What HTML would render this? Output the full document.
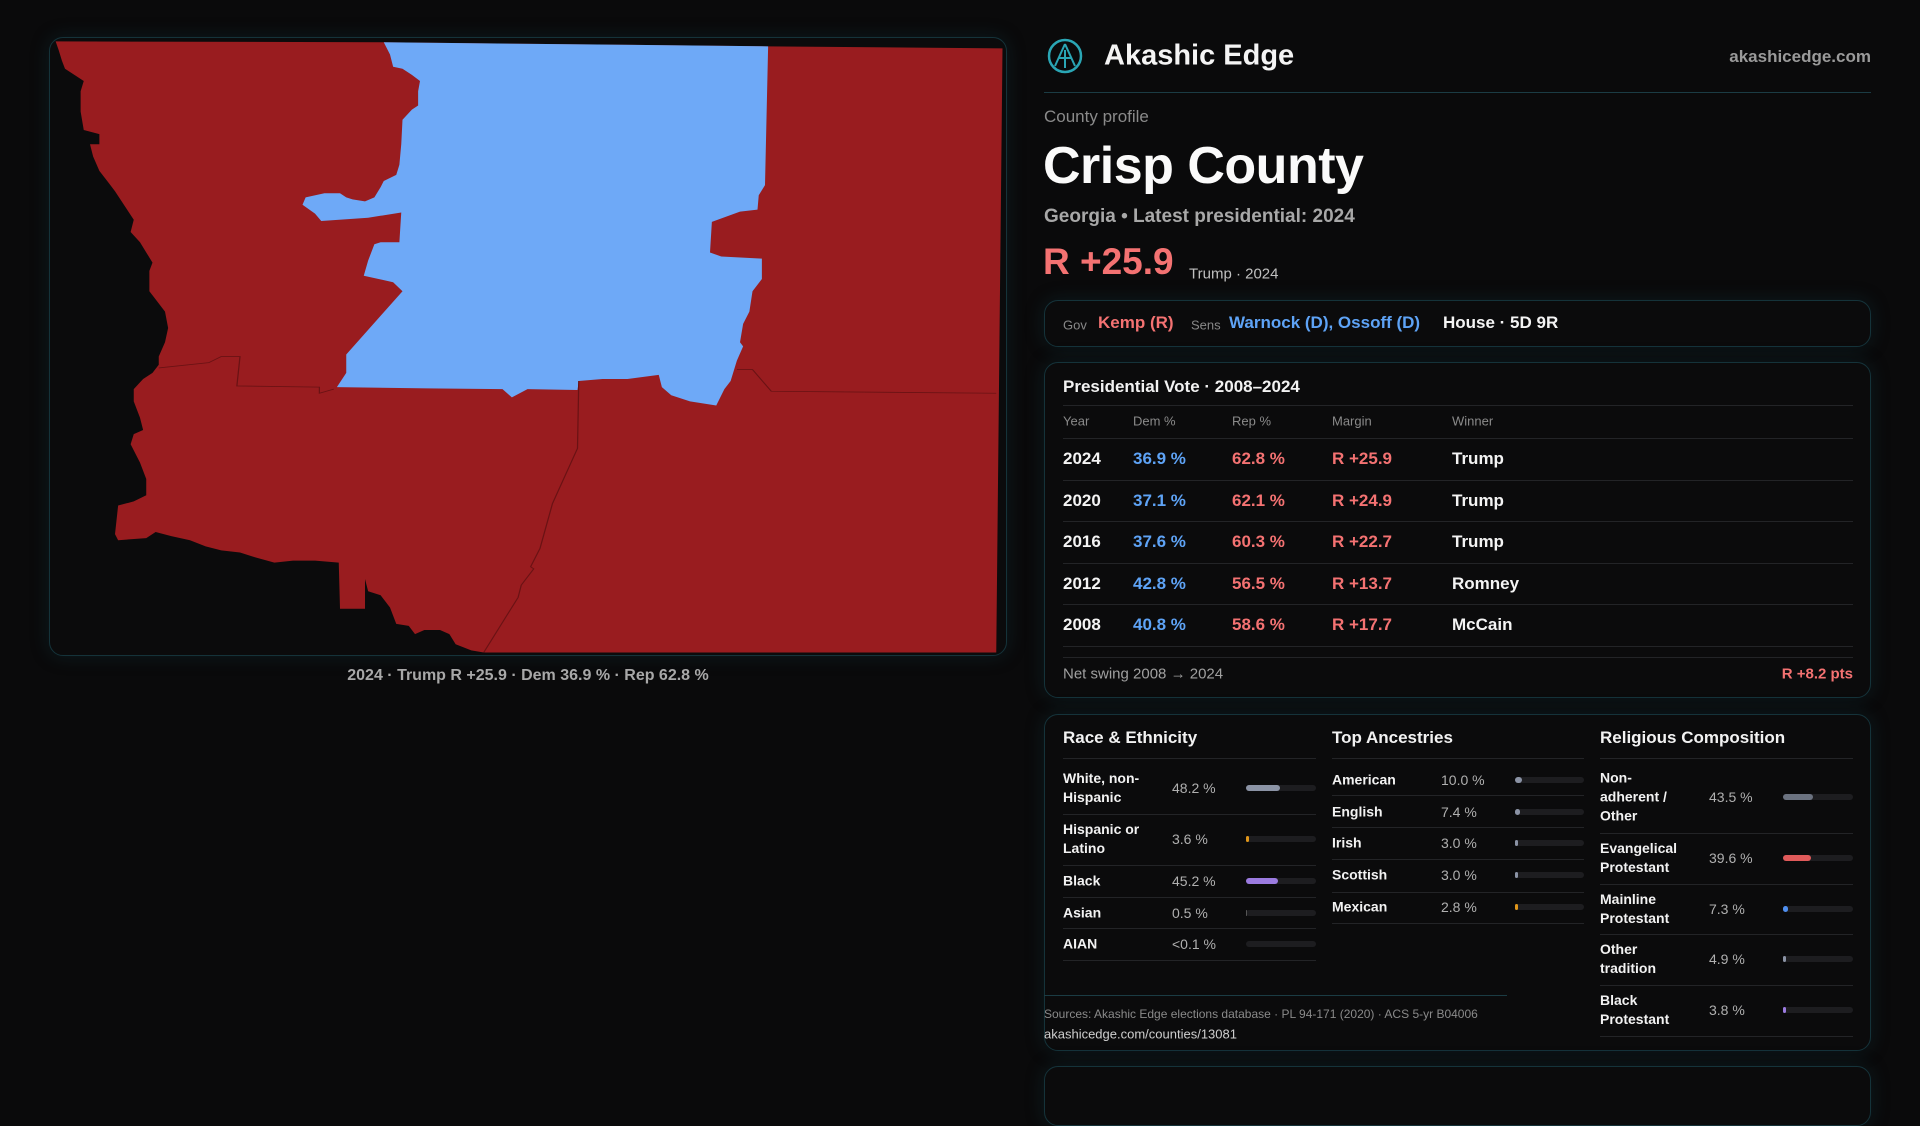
<!DOCTYPE html>
<html><head><meta charset="utf-8">
<style>
*{margin:0;padding:0;box-sizing:border-box}
body{width:1920px;height:1080px;background:#0a0a0b;overflow:hidden;position:relative;font-family:"Liberation Sans",sans-serif;color:#f2f2f2}
.a{position:absolute;white-space:nowrap}
.box{position:absolute;border:1px solid #15333a;border-radius:14px;background:#0b0b0c;box-shadow:0 0 18px rgba(20,60,70,.35)}
.hl{position:absolute;height:1px;background:#232427}
.red{color:#f47272}.blue{color:#5ea3f6}
.v{transform:translateY(-50%)}
</style></head><body>

<div class="box" style="left:49px;top:37px;width:958px;height:619px"></div>
<svg style="position:absolute;left:40px;top:30px" width="980" height="640" viewBox="0 0 1568 1568" preserveAspectRatio="none">
<polygon fill="#991c1f" points="25,28 550,30 1165,40 1540,45 1530,1525 710,1525 690,1520 665,1505 655,1480 640,1470 615,1470 600,1480 590,1460 570,1455 560,1415 545,1385 525,1375 520,1345 520,1418 480,1418 478,1305 440,1300 405,1300 375,1305 340,1290 320,1280 290,1275 265,1265 240,1250 210,1240 185,1230 170,1245 125,1250 120,1235 125,1165 150,1155 170,1140 170,1100 160,1060 145,1015 150,990 165,980 160,950 150,910 150,880 165,855 180,840 190,820 190,800 200,765 205,730 200,690 185,660 175,640 175,590 180,570 170,545 160,520 145,495 150,465 135,430 120,395 110,375 95,345 85,310 80,280 95,280 95,255 70,245 65,200 65,150 70,125 55,110 40,95 35,75 30,50"/>
<polygon fill="#6ea9f7" points="550,30 1165,40 1160,380 1150,405 1148,440 1120,445 1075,470 1072,545 1090,555 1155,560 1155,610 1140,640 1135,690 1125,720 1120,765 1125,775 1115,810 1105,860 1095,880 1082,920 1040,910 1010,895 995,875 990,845 940,855 900,855 862,860 860,882 780,880 755,900 740,880 620,878 475,875 490,840 490,795 580,640 565,618 518,602 525,565 535,525 545,520 575,520 578,447 525,460 450,468 440,450 420,428 425,410 455,400 480,400 490,410 500,415 520,420 535,410 545,385 550,370 570,355 575,330 578,280 580,220 595,195 605,185 605,150 608,125 595,110 580,95 565,90 560,60"/>
<g fill="none" stroke="#6a1214" stroke-width="2">
<polyline points="190,828 270,815 290,800 320,800 315,872 447,875 447,890 470,880"/>
<polyline points="862,860 860,1025 820,1160 800,1270 785,1315 790,1320 770,1360 765,1390 710,1525"/>
<polyline points="1115,832 1140,832 1170,885 1530,890"/>
</g>
</svg>
<div class="a" style="left:528px;top:676px;transform:translate(-50%,-50%);font-size:16px;font-weight:bold;color:#a8a8a8">2024 · Trump R +25.9 · Dem 36.9 % · Rep 62.8 %</div>

<svg class="a" style="left:1047px;top:38px" width="36" height="36" viewBox="0 0 36 36"><circle cx="18" cy="18" r="16" fill="none" stroke="#2aa6b5" stroke-width="2.5"/><path d="M18 6 L8 28 M18 6 L28 28 M11 20 L25 20 M18 12 L18 30" stroke="#2aa6b5" stroke-width="2" fill="none"/></svg>
<div class="a v" style="left:1104px;top:56px;font-size:29px;font-weight:bold;color:#f4f4f4">Akashic Edge</div>
<div class="a v" style="right:49px;top:57px;font-size:17px;font-weight:bold;color:#9a9a9a">akashicedge.com</div>
<div class="hl" style="left:1044px;top:92px;width:827px;background:#1b3c44"></div>
<div class="a v" style="left:1044px;top:117px;font-size:17px;color:#8a8a8a">County profile</div>
<div class="a v" style="left:1043px;top:166px;font-size:52px;font-weight:bold;letter-spacing:-0.5px;color:#fafafa">Crisp County</div>
<div class="a v" style="left:1044px;top:217px;font-size:19px;font-weight:bold;color:#a8a8a8">Georgia • Latest presidential: 2024</div>
<div class="a v red" style="left:1043px;top:262px;font-size:37px;font-weight:bold">R +25.9</div>
<div class="a v" style="left:1189px;top:274px;font-size:15px;color:#c0c0c0">Trump · 2024</div>

<div class="box" style="left:1044px;top:300px;width:827px;height:47px"></div>
<div class="a v" style="left:1063px;top:325px;font-size:13px;color:#888">Gov</div>
<div class="a v red" style="left:1098px;top:323px;font-size:17px;font-weight:bold">Kemp (R)</div>
<div class="a v" style="left:1191px;top:325px;font-size:13px;color:#888">Sens</div>
<div class="a v blue" style="left:1229px;top:323px;font-size:17px;font-weight:bold">Warnock (D), Ossoff (D)</div>
<div class="a v" style="left:1443px;top:323px;font-size:17px;font-weight:bold;color:#f4f4f4">House · 5D 9R</div>

<div class="box" style="left:1044px;top:362px;width:827px;height:336px"></div>
<div class="a v" style="left:1063px;top:387px;font-size:17px;font-weight:bold">Presidential Vote · 2008–2024</div>
<div class="hl" style="left:1063px;top:405px;width:790px"></div>
<div id="ptable"></div>
<div class="hl" style="left:1063px;top:657px;width:790px"></div>
<div class="a v" style="left:1063px;top:674px;font-size:15px;color:#a0a0a0">Net swing 2008 → 2024</div>
<div class="a v red" style="right:67px;top:674px;font-size:15px;font-weight:bold">R +8.2 pts</div>

<div class="box" style="left:1044px;top:714px;width:827px;height:337px"></div>
<div class="a v" style="left:1063px;top:738px;font-size:17px;font-weight:bold">Race &amp; Ethnicity</div>
<div class="a v" style="left:1332px;top:738px;font-size:17px;font-weight:bold">Top Ancestries</div>
<div class="a v" style="left:1600px;top:738px;font-size:17px;font-weight:bold">Religious Composition</div>
<div id="demo"></div>
<div class="hl" style="left:1044px;top:995px;width:463px;background:#1b3c44"></div>
<div class="a v" style="left:1044px;top:1014px;font-size:12px;color:#8a8a8a">Sources: Akashic Edge elections database · PL 94-171 (2020) · ACS 5-yr B04006</div>
<div class="a v" style="left:1044px;top:1034px;font-size:13px;color:#cfcfcf">akashicedge.com/counties/13081</div>

<div class="box" style="left:1044px;top:1066px;width:827px;height:60px"></div>

<script>
const years=["2024","2020","2016","2012","2008"];
const demPct=[36.9,37.1,37.6,42.8,40.8];
const repPct=[62.8,62.1,60.3,56.5,58.6];
const margins=[25.9,24.9,22.7,13.7,17.7];
const winners=["Trump","Trump","Trump","Romney","McCain"];

const raceLabels=["White, non-<br>Hispanic","Hispanic or<br>Latino","Black","Asian","AIAN"];
const raceValues=[48.2,3.6,45.2,0.5,0.05];
const raceText=["48.2 %","3.6 %","45.2 %","0.5 %","<0.1 %"];
const ancLabels=["American","English","Irish","Scottish","Mexican"];
const ancValues=[10.0,7.4,3.0,3.0,2.8];
const relLabels=["Non-<br>adherent /<br>Other","Evangelical<br>Protestant","Mainline<br>Protestant","Other<br>tradition","Black<br>Protestant"];
const relValues=[43.5,39.6,7.3,4.9,3.8];

function add(html,parent){const d=document.createElement('div');d.innerHTML=html;const e=d.firstElementChild;parent.appendChild(e);return e;}
const pt=document.getElementById('ptable');
const cols=[1063,1133,1232,1332,1452];
["Year","Dem %","Rep %","Margin","Winner"].forEach((h,i)=>{
  const e=add(`<div class="a v" style="left:${cols[i]}px;top:421px;font-size:13px;color:#8a8a8a">${h}</div>`,pt);
  
  
});
add(`<div class="hl" style="left:1063px;top:438px;width:790px"></div>`,pt);
years.forEach((y,i)=>{
  const cy=459+i*41.6;
  const row=add(`<div></div>`,pt);
  
  
  const cells=[[y,'#f4f4f4'],[demPct[i].toFixed(1)+' %','#5ea3f6'],[repPct[i].toFixed(1)+' %','#f47272'],['R +'+margins[i].toFixed(1),'#f47272'],[winners[i],'#f4f4f4']];
  cells.forEach((c,j)=>{add(`<div class="a v" style="left:${cols[j]}px;top:${cy}px;font-size:17px;font-weight:bold;color:${c[1]}">${c[0]}</div>`,row);});
  add(`<div class="hl" style="left:1063px;top:${cy+20.5}px;width:790px"></div>`,row);
});

const demo=document.getElementById('demo');
function section(labels,values,texts,colors,lx,vx,bx,bw,centers,lines,name){
  add(`<div class="hl" style="left:${lx}px;top:758px;width:${bw+bx-lx}px"></div>`,demo);
  labels.forEach((lab,i)=>{
    const g=add('<div></div>',demo);
    
    
    add(`<div class="a v" style="left:${lx}px;top:${centers[i]}px;font-size:14px;font-weight:bold;line-height:19px;color:#f2f2f2">${lab}</div>`,g);
    add(`<div class="a v" style="left:${vx}px;top:${centers[i]}px;font-size:14px;color:#b0b0b0">${texts[i]}</div>`,g);
    add(`<div class="a" style="left:${bx}px;top:${centers[i]-3}px;width:${bw}px;height:6px;border-radius:3px;background:#1d1d20"></div>`,g);
    const w=Math.max(values[i]>=1?3:0,bw*values[i]/100);
    if(w>0){const b=add(`<div class="a" style="left:${bx}px;top:${centers[i]-3}px;width:${w}px;height:6px;border-radius:3px;background:${colors[i]}"></div>`,g);
      
      }
    add(`<div class="hl" style="left:${lx}px;top:${lines[i]}px;width:${bw+bx-lx}px"></div>`,g);
  });
}
section(raceLabels,raceValues,raceText,["#8b93a5","#e0961a","#9b7be0","#555","#555"],1063,1172,1246,70,[788,839,881,913,944],[814,865,897,928,960],'race');
section(ancLabels,ancValues,ancValues.map(v=>v.toFixed(1)+' %'),["#8b93a5","#8b93a5","#8b93a5","#8b93a5","#e0961a"],1332,1441,1515,69,[780,812,843,875,907],[795,827,859,892,923],'ancestry');
section(relLabels,relValues,relValues.map(v=>v.toFixed(1)+' %'),["#6b7280","#e05a5a","#4f8ff0","#8b93a5","#9b7be0"],1600,1709,1783,70,[797,858,909,959,1010],[833,884,934,985,1036],'religion');
</script>
</body></html>
